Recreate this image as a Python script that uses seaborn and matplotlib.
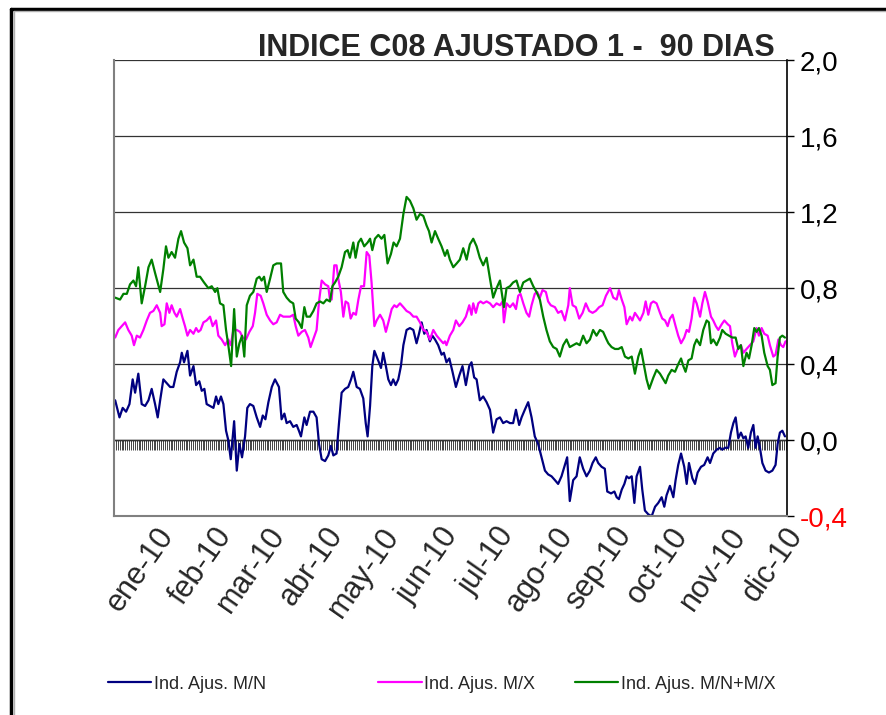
import pandas as pd
import seaborn as sns
import matplotlib.pyplot as plt
from matplotlib.ticker import MultipleLocator
from matplotlib.lines import Line2D

# eje x: dias contados desde el 10-dic-2009
inicio = pd.Timestamp('2009-12-10')
meses = ['ene-10', 'feb-10', 'mar-10', 'abr-10', 'may-10', 'jun-10',
         'jul-10', 'ago-10', 'sep-10', 'oct-10', 'nov-10', 'dic-10']
niveles = [-0.4, 0.0, 0.4, 0.8, 1.2, 1.6, 2.0]

# Ind. Ajus. M/N
dias_mn = [0.6, 2.9, 4.6, 6.4, 8.2, 9.9, 11.2, 12.9, 14.7, 16.5,
           18.3, 20.0, 21.8, 23.2, 24.5, 26.2, 28.0, 29.8, 31.5, 33.3,
           35.1, 36.0, 37.2, 39.0, 40.4, 42.2, 43.6, 45.3, 46.6, 48.0,
           49.2, 51.0, 52.8, 54.2, 55.4, 56.8, 58.1, 59.5, 60.7, 62.0,
           63.8, 65.2, 66.6, 68.0, 69.6, 70.8, 72.2, 74.0, 75.8, 77.6,
           79.0, 80.4, 82.0, 83.8, 85.5,
           87.6, 89.0, 90.5, 91.7, 93.5, 95.2, 97.0, 98.2, 99.3, 101.1,
           102.3, 104.1, 105.9, 107.6, 108.9, 110.3, 112.1, 113.8, 115.2, 116.5,
           118.2, 119.5, 120.9, 122.7, 124.4, 125.9, 127.1, 128.9, 130.6, 132.4,
           133.7, 134.7, 136.0, 137.2, 138.3, 139.5, 140.7, 141.8, 143.0, 144.4,
           145.7, 147.1, 148.3, 149.6, 151.0, 152.4, 153.7, 155.4, 157.2, 159.0,
           160.7, 162.0, 163.4, 164.8, 166.0, 167.8, 169.1, 170.5, 172.2, 174.0,
           175.2, 176.6, 178.1, 179.8, 181.6, 183.4, 185.1, 186.9, 188.7, 189.9,
           191.3, 192.6, 194.3, 196.1, 197.9, 199.7, 201.4, 203.2, 205.0, 206.7,
           208.5, 210.3, 212.0, 213.5, 215.2, 216.5, 218.2, 220.0, 221.8, 223.5,
           225.3, 227.1, 228.9, 230.6, 232.4, 234.2, 235.9, 237.7, 239.5, 240.7,
           242.1, 243.9, 245.7, 247.4, 249.2, 251.0, 252.8, 254.2, 255.9, 257.2,
           259.0, 260.7, 262.0,
           264.0, 265.8, 267.0, 268.2, 269.7, 271.1, 272.3, 273.5, 275.0, 276.4,
           277.6, 279.4, 280.6, 282.0, 283.8, 285.6, 287.4, 289.1, 290.9, 292.3,
           293.5, 295.3, 297.1, 298.3, 299.7, 301.2, 302.9, 304.2, 305.4, 307.2,
           308.6, 310.0, 311.8, 313.5, 315.3, 316.6, 318.3, 320.1, 321.9, 323.1,
           324.5, 326.3, 327.7, 329.0, 330.2, 331.6, 333.0, 334.3, 335.5, 336.9,
           338.3, 339.6, 340.8, 341.9, 343.1, 344.4, 346.1, 347.9, 349.7, 351.4,
           352.5, 353.7, 355.0, 356.4]
ind_mn = [0.21, 0.12, 0.17, 0.15, 0.19, 0.32, 0.25, 0.35, 0.19, 0.18,
          0.21, 0.27, 0.19, 0.12, 0.21, 0.32, 0.30, 0.28, 0.28, 0.36,
          0.41, 0.46, 0.41, 0.47, 0.34, 0.39, 0.29, 0.31, 0.26, 0.27,
          0.19, 0.18, 0.17, 0.23, 0.19, 0.23, 0.19, 0.05, 0.00, -0.10,
          0.10, -0.16, -0.02, -0.09, 0.02, 0.17, 0.19, 0.18, 0.12, 0.07,
          0.13, 0.11, 0.20, 0.28, 0.32,
          0.28, 0.11, 0.14, 0.09, 0.10, 0.07, 0.08, 0.05, 0.02, 0.12,
          0.08, 0.15, 0.15, 0.12, -0.02, -0.10, -0.11, -0.08, -0.03, -0.08,
          -0.07, 0.09, 0.25, 0.27, 0.28, 0.32, 0.36, 0.28, 0.27, 0.22,
          0.09, 0.02, 0.18, 0.39, 0.47, 0.44, 0.41, 0.38, 0.46, 0.39,
          0.32, 0.29, 0.32, 0.29, 0.32, 0.39, 0.50, 0.58, 0.59, 0.58,
          0.51, 0.56, 0.62, 0.56, 0.58, 0.52, 0.55, 0.53, 0.50, 0.45,
          0.46, 0.41, 0.43, 0.36, 0.28, 0.34, 0.39, 0.29, 0.39, 0.41,
          0.33, 0.32, 0.21, 0.23, 0.20, 0.16, 0.04, 0.11, 0.12, 0.09,
          0.10, 0.09, 0.09, 0.16, 0.08, 0.12, 0.16, 0.20, 0.12, 0.02,
          -0.02, -0.09, -0.16, -0.18, -0.19, -0.21, -0.23, -0.19, -0.13, -0.09,
          -0.32, -0.21, -0.19, -0.09, -0.15, -0.19, -0.16, -0.12, -0.09, -0.12,
          -0.14, -0.15, -0.27,
          -0.28, -0.27, -0.30, -0.31, -0.26, -0.23, -0.19, -0.20, -0.19, -0.33,
          -0.19, -0.14, -0.26, -0.37, -0.39, -0.40, -0.35, -0.33, -0.30, -0.35,
          -0.29, -0.24, -0.30, -0.21, -0.13, -0.07, -0.14, -0.23, -0.12, -0.20,
          -0.23, -0.17, -0.14, -0.13, -0.09, -0.12, -0.07, -0.05, -0.04, -0.05,
          -0.04, -0.04, 0.04, 0.09, 0.12, 0.01, 0.04, 0.01, 0.02, -0.04,
          0.04, 0.08, -0.04, 0.02, -0.04, -0.12, -0.16, -0.17, -0.16, -0.13,
          -0.02, 0.04, 0.05, 0.02]

# Ind. Ajus. M/X
dias_mx = [0.6, 2.3, 4.1, 5.9, 7.6, 9.4, 10.6, 12.1, 13.8, 15.6,
           17.4, 19.1, 20.9, 22.7, 24.5, 25.3, 26.8, 28.0, 29.4, 30.6,
           32.1, 33.3, 35.1, 36.5, 37.7, 39.0, 40.4, 42.2, 43.6, 44.8,
           46.0, 47.5, 49.2, 51.0, 52.4, 54.2, 55.4, 57.2, 59.0, 60.7,
           62.0, 63.4, 65.2, 66.9, 68.4, 70.1, 71.9, 73.7, 74.9, 76.1,
           77.9, 79.3, 81.1, 82.9, 84.6, 86.4,
           88.2, 89.9, 91.7, 93.5, 95.2, 96.5, 97.9, 99.7, 101.4, 103.2,
           104.4, 106.2, 107.6, 108.9, 110.3, 112.1, 113.8, 114.7, 115.6, 117.0,
           118.2, 119.1, 120.5, 121.8, 123.0, 124.4, 125.7, 127.1, 128.5, 129.8,
           131.2, 132.8, 134.2, 135.6, 136.8, 138.3, 139.5, 141.3, 143.0, 144.4,
           146.0, 147.5, 148.9, 150.1, 151.9, 153.7, 155.4, 157.2, 159.0, 160.7,
           162.5, 164.3, 166.0, 167.8, 169.6, 171.4, 173.1, 174.9,
           175.8, 176.6, 178.4, 180.2, 181.6, 183.4, 185.1, 186.9, 188.7, 189.9,
           190.8, 192.2, 193.5, 194.7, 196.1, 197.9, 199.7, 201.4, 203.2, 205.0,
           206.4, 207.1, 208.5, 210.3, 212.0, 213.5, 214.7, 215.9, 217.4, 219.1,
           220.5, 221.8, 223.5, 224.8, 226.2, 227.6, 229.4, 230.6, 232.0, 234.2,
           235.9, 237.7, 239.5, 241.3, 242.1, 243.6, 245.3, 247.1, 248.9, 250.6,
           252.4, 254.2, 255.9, 257.7, 259.5, 261.3,
           263.5, 265.2, 267.0, 268.2, 269.7, 271.1, 272.3, 274.1, 275.3, 276.7,
           278.1, 279.4, 281.2, 282.4, 283.8, 285.2, 286.5, 288.2, 290.0, 291.2,
           292.7, 294.1, 295.3, 296.7, 298.3, 299.7, 301.2, 302.9, 304.2, 305.4,
           306.8, 308.2, 309.5, 311.3, 312.5, 313.9, 315.3, 317.1, 318.3, 319.7,
           321.0, 322.8, 324.2, 326.0, 327.2, 328.4, 329.8, 331.3, 333.0, 334.3,
           336.0, 337.8, 339.6, 341.3, 342.6, 344.0, 345.4, 347.2, 348.4, 350.2,
           351.4, 352.9, 354.3, 355.5, 356.7]
ind_mx = [0.54, 0.58, 0.60, 0.62, 0.58, 0.55, 0.50, 0.55, 0.54, 0.58,
          0.63, 0.67, 0.68, 0.71, 0.67, 0.60, 0.61, 0.72, 0.67, 0.71,
          0.67, 0.65, 0.69, 0.64, 0.60, 0.55, 0.58, 0.56, 0.59, 0.57,
          0.58, 0.62, 0.63, 0.65, 0.60, 0.63, 0.55, 0.53, 0.50, 0.53,
          0.50, 0.58, 0.58, 0.57, 0.54, 0.53, 0.57, 0.60, 0.67, 0.77,
          0.76, 0.72, 0.66, 0.63, 0.61, 0.62,
          0.66, 0.65, 0.65, 0.65, 0.66, 0.60, 0.55, 0.57, 0.58, 0.54,
          0.49, 0.54, 0.58, 0.73, 0.84, 0.82, 0.81, 0.74, 0.74, 0.92,
          0.92, 0.85, 0.78, 0.65, 0.73, 0.72, 0.64, 0.67, 0.66, 0.74,
          0.81, 0.81, 0.99, 0.97, 0.83, 0.60, 0.63, 0.66, 0.63, 0.57,
          0.63, 0.69, 0.71, 0.70, 0.72, 0.70, 0.68, 0.67, 0.65, 0.65,
          0.62, 0.58, 0.57, 0.53, 0.58, 0.55, 0.53, 0.51,
          0.52, 0.50, 0.55, 0.58, 0.63, 0.60, 0.62, 0.65, 0.71, 0.66,
          0.72, 0.67, 0.72, 0.73, 0.72, 0.73, 0.72, 0.70, 0.72, 0.71,
          0.73, 0.62, 0.72, 0.70, 0.72, 0.69, 0.76, 0.77, 0.72, 0.67,
          0.65, 0.71, 0.77, 0.78, 0.75, 0.79, 0.78, 0.73, 0.71, 0.70,
          0.67, 0.68, 0.63, 0.71, 0.80, 0.71, 0.70, 0.64, 0.67, 0.72,
          0.68, 0.67, 0.68, 0.70, 0.71, 0.76,
          0.80, 0.75, 0.74, 0.79, 0.74, 0.70, 0.61, 0.65, 0.63, 0.67,
          0.65, 0.63, 0.67, 0.73, 0.66, 0.72, 0.73, 0.72, 0.67, 0.64,
          0.63, 0.60, 0.64, 0.66, 0.60, 0.55, 0.51, 0.54, 0.58, 0.57,
          0.64, 0.75, 0.72, 0.65, 0.72, 0.78, 0.73, 0.65, 0.63, 0.60,
          0.58, 0.61, 0.63, 0.61, 0.60, 0.51, 0.44, 0.48, 0.50, 0.46,
          0.48, 0.50, 0.52, 0.59, 0.55, 0.59, 0.56, 0.55, 0.50, 0.44,
          0.45, 0.53, 0.50, 0.49, 0.52]

# Ind. Ajus. M/N+M/X
dias_tot = [0.6, 3.2, 5.0, 6.8, 8.5, 10.3, 11.7, 12.9, 14.7, 16.5,
            18.3, 20.0, 21.8, 24.5, 26.2, 27.6, 28.9, 30.6, 32.4, 34.2,
            35.6, 37.2, 39.0, 40.4, 42.2, 43.9, 45.7, 47.8, 50.1, 51.9,
            53.7, 54.9, 56.3, 58.1, 59.5, 60.7, 62.2, 63.8, 65.2, 66.6,
            68.0, 69.2, 70.5, 72.2, 74.0, 75.8, 77.2, 78.4, 79.7, 81.1,
            82.9, 84.6, 86.4,
            88.7, 89.9, 91.7, 93.5, 95.2, 96.5, 98.2, 99.7, 101.1, 102.3,
            104.1, 105.9, 107.6, 109.4, 111.2, 112.9, 114.7, 116.0, 117.4, 119.1,
            120.9, 122.7, 124.1, 125.3, 127.1, 128.3, 129.8, 131.2, 132.9, 134.7,
            136.0, 137.2, 138.6, 140.4, 142.1, 143.6, 145.3, 147.1, 148.5, 150.1,
            151.9, 153.7, 155.4, 157.2, 159.0, 160.7, 162.5, 164.3, 166.0, 167.3,
            168.7, 170.5, 172.2,
            174.0, 175.8, 177.0, 178.4, 180.2, 182.0, 183.7, 185.5, 187.3, 189.0,
            190.8, 192.6, 194.3, 196.1, 197.9, 199.7, 201.4, 203.2, 205.0, 207.1,
            208.5, 210.3, 212.0, 213.8, 215.6, 217.4, 219.1, 220.9, 222.7, 224.4,
            226.2, 228.0, 229.7, 231.5, 233.3, 235.1, 236.8, 238.6, 240.4, 242.1,
            243.9, 245.7, 247.4, 249.2, 251.0, 252.8, 254.5, 256.3, 258.1, 259.8,
            261.6,
            262.6, 264.3, 266.1, 267.9, 269.7, 271.4, 273.2, 275.0, 276.7, 278.5,
            279.9, 281.2, 282.9, 284.3, 286.5, 288.2, 290.0, 291.8, 293.0, 294.4,
            296.2, 298.0, 299.7, 301.2, 302.4, 303.6, 305.1, 306.8, 308.2, 309.5,
            311.3, 313.0, 314.8, 316.0, 317.1, 318.3, 320.1, 321.9, 323.1, 324.9,
            326.7, 328.4, 330.2, 331.6, 333.0, 334.3, 336.0, 337.3, 338.7, 340.1,
            341.3, 342.6, 344.0, 345.4, 347.2, 348.4, 349.7, 351.4, 352.5, 353.7,
            355.0, 356.4]
ind_tot = [0.75, 0.74, 0.77, 0.77, 0.82, 0.84, 0.81, 0.91, 0.72, 0.81,
           0.91, 0.95, 0.88, 0.78, 0.90, 1.02, 0.96, 0.99, 0.96, 1.06,
           1.10, 1.04, 1.01, 0.92, 0.95, 0.86, 0.86, 0.83, 0.80, 0.81,
           0.78, 0.80, 0.72, 0.71, 0.58, 0.50, 0.39, 0.69, 0.44, 0.51,
           0.55, 0.44, 0.71, 0.76, 0.78, 0.85, 0.86, 0.84, 0.86, 0.78,
           0.85, 0.92, 0.93,
           0.93, 0.78, 0.75, 0.73, 0.72, 0.64, 0.62, 0.59, 0.70, 0.65,
           0.65, 0.68, 0.72, 0.73, 0.72, 0.74, 0.73, 0.81, 0.83, 0.86,
           0.91, 0.99, 1.00, 0.96, 1.04, 0.96, 1.04, 1.06, 1.02, 1.04,
           1.06, 1.00, 1.06, 1.08, 1.06, 1.08, 0.93, 0.98, 1.04, 1.02,
           1.06, 1.19, 1.28, 1.26, 1.22, 1.16, 1.19, 1.18, 1.13, 1.10,
           1.04, 1.10, 1.06,
           1.02, 0.97, 1.00, 0.95, 0.91, 0.93, 0.95, 1.01, 0.95, 1.03,
           1.06, 1.02, 0.96, 0.92, 0.96, 0.85, 0.75, 0.80, 0.84, 0.70,
           0.80, 0.81, 0.83, 0.84, 0.78, 0.83, 0.84, 0.85, 0.81, 0.78,
           0.74, 0.65, 0.58, 0.52, 0.49, 0.48, 0.44, 0.50, 0.53, 0.49,
           0.50, 0.51, 0.50, 0.55, 0.51, 0.53, 0.58, 0.55, 0.58, 0.57,
           0.53,
           0.51, 0.49, 0.48, 0.48, 0.49, 0.44, 0.43, 0.44, 0.35, 0.44,
           0.48, 0.41, 0.32, 0.27, 0.33, 0.37, 0.35, 0.32, 0.30, 0.34,
           0.37, 0.36, 0.40, 0.43, 0.39, 0.36, 0.42, 0.43, 0.50, 0.53,
           0.50, 0.58, 0.63, 0.62, 0.51, 0.53, 0.50, 0.54, 0.58, 0.56,
           0.55, 0.54, 0.54, 0.48, 0.50, 0.39, 0.46, 0.43, 0.50, 0.59,
           0.57, 0.59, 0.55, 0.46, 0.39, 0.37, 0.29, 0.30, 0.44, 0.54,
           0.55, 0.54]

sns.set_style('white')
plt.rcParams['font.family'] = ['Liberation Sans', 'DejaVu Sans']

fig = plt.figure(figsize=(8.86, 7.15), dpi=100)
ax = fig.add_axes([0.1287, 0.278, 0.7596, 0.638])

series = [(dias_mn, ind_mn, '#000080', 'Ind. Ajus. M/N'),
          (dias_mx, ind_mx, '#FF00FF', 'Ind. Ajus. M/X'),
          (dias_tot, ind_tot, '#008000', 'Ind. Ajus. M/N+M/X')]
for dias, vals, color, nombre in series:
    sns.lineplot(x=dias, y=vals, color=color, linewidth=1.6, ax=ax)

ax.set_xlim(0, 357.5)
ax.set_ylim(-0.4, 2.0)

# eje de valores a la derecha
ax.yaxis.tick_right()
ax.set_yticks(niveles)
ax.set_yticklabels([f'{v:.1f}'.replace('.', ',') for v in niveles], fontsize=20)
ax.tick_params(axis='y', length=5, width=1, pad=4, colors='black')
ax.get_yticklabels()[0].set_color('red')
ax.grid(axis='y', color='#333333', linewidth=0.9)

# meses en la base
pos_meses = (pd.date_range('2010-01-01', periods=12, freq='MS') - inicio).days
ax.set_xticks(pos_meses)
ax.set_xticklabels(meses, rotation=55, ha='right', rotation_mode='anchor', fontsize=22)
ax.tick_params(axis='x', length=0, pad=4)
ax.set_xlabel('')
ax.set_ylabel('')

ax.spines['top'].set_visible(False)
ax.spines['left'].set_color('#808080')
ax.spines['left'].set_linewidth(1.5)
ax.spines['bottom'].set_color('#808080')
ax.spines['bottom'].set_linewidth(1.5)
ax.spines['right'].set_color('black')
ax.spines['right'].set_linewidth(1.2)

# linea de cero con marcas diarias
eje_cero = ax.secondary_xaxis(0.4 / 2.4)
eje_cero.set_xticks([])
eje_cero.xaxis.set_minor_locator(MultipleLocator(1))
eje_cero.tick_params(which='minor', direction='out', length=7, width=0.7, color='#444444')
eje_cero.spines['bottom'].set_color('black')
eje_cero.spines['bottom'].set_linewidth(1.0)

fig.text(0.875, 0.933, 'INDICE C08 AJUSTADO 1 -  90 DIAS', ha='right', va='center',
         fontsize=22, fontweight='bold', family=['Liberation Sans Narrow', 'Liberation Sans'])

# leyenda
for (dias, vals, color, nombre), xl in zip(series, [0.122, 0.427, 0.649]):
    fig.legend(handles=[Line2D([], [], color=color, linewidth=1.6)], labels=[nombre],
               loc='center left', bbox_to_anchor=(xl, 0.043), frameon=False,
               fontsize=13, handlelength=2.4, handletextpad=0.15, borderpad=0,
               borderaxespad=0)

# marco exterior
fig.add_artist(Line2D([0.012, 0.012], [0.0, 0.988], color='black', linewidth=2.5))
fig.add_artist(Line2D([0.012, 1.0], [0.988, 0.988], color='black', linewidth=2.5))
fig.add_artist(Line2D([0.016, 0.016], [0.0, 0.984], color='#b0b0b0', linewidth=1))
fig.add_artist(Line2D([0.016, 1.0], [0.984, 0.984], color='#b0b0b0', linewidth=1))

fig.savefig('out.png', dpi=100)
